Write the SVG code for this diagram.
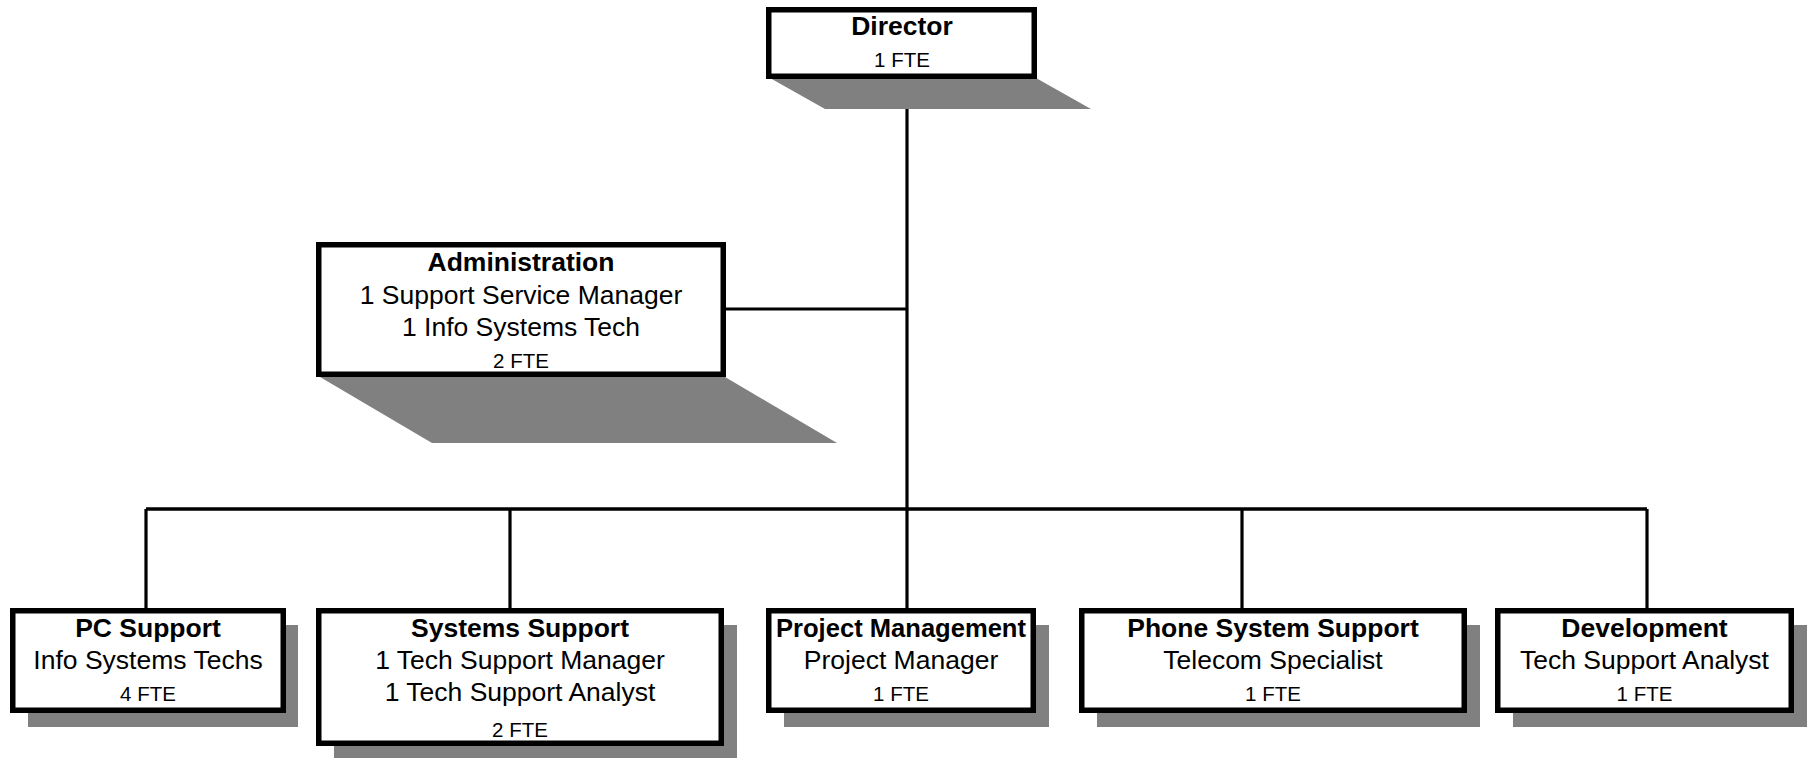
<svg xmlns="http://www.w3.org/2000/svg" width="1807" height="758" viewBox="0 0 1807 758">
<style>
.box{fill:#fff;stroke:#000;stroke-width:5.5}
.shadow{fill:#808080;stroke:none}
.line{stroke:#000;stroke-width:3.2;fill:none}
text{font-family:"Liberation Sans",Arial,sans-serif;fill:#000;text-anchor:middle}
.t{font-size:26.5px;font-weight:bold}
.r{font-size:26.5px}
.f{font-size:20.5px}
</style>
<rect width="1807" height="758" fill="#fff"/>
<g id="connectors">
<line class="line" x1="907" y1="79" x2="907" y2="509"/>
<line class="line" x1="726" y1="309" x2="907" y2="309"/>
<line class="line" x1="146" y1="509" x2="1647" y2="509" style="stroke-width:3.6"/>
<line class="line" x1="146" y1="509" x2="146" y2="608"/>
<line class="line" x1="510" y1="509" x2="510" y2="608"/>
<line class="line" x1="907" y1="509" x2="907" y2="608"/>
<line class="line" x1="1242" y1="509" x2="1242" y2="608"/>
<line class="line" x1="1647" y1="509" x2="1647" y2="608"/>
</g>
<g id="director">
<polygon class="shadow" points="770,78 1036,78 1091,109 825,109"/>
<rect class="box" x="768.75" y="9.75" width="265.5" height="66.5"/>
<text class="t" x="902" y="35">Director</text>
<text class="f" x="902" y="67">1 FTE</text>
</g>
<g id="administration">
<polygon class="shadow" points="320,377 725,377 837,443 432,443"/>
<rect class="box" x="318.75" y="244.75" width="404.5" height="129.5"/>
<text class="t" x="521" y="271">Administration</text>
<text class="r" x="521" y="304">1 Support Service Manager</text>
<text class="r" x="521" y="336">1 Info Systems Tech</text>
<text class="f" x="521" y="368">2 FTE</text>
</g>
<g id="pc-support">
<rect class="shadow" x="28" y="625" width="270" height="102"/>
<rect class="box" x="12.75" y="610.75" width="270.5" height="99.5"/>
<text class="t" x="148" y="637">PC Support</text>
<text class="r" x="148" y="669">Info Systems Techs</text>
<text class="f" x="148" y="701">4 FTE</text>
</g>
<g id="systems-support">
<rect class="shadow" x="334" y="625" width="403" height="135"/>
<rect class="box" x="318.75" y="610.75" width="402.5" height="132.5"/>
<text class="t" x="520" y="637">Systems Support</text>
<text class="r" x="520" y="669">1 Tech Support Manager</text>
<text class="r" x="520" y="701">1 Tech Support Analyst</text>
<text class="f" x="520" y="737">2 FTE</text>
</g>
<g id="project-management">
<rect class="shadow" x="784" y="625" width="265" height="102"/>
<rect class="box" x="768.75" y="610.75" width="264.5" height="99.5"/>
<text class="t" x="901" y="637" textLength="250" lengthAdjust="spacingAndGlyphs">Project Management</text>
<text class="r" x="901" y="669">Project Manager</text>
<text class="f" x="901" y="701">1 FTE</text>
</g>
<g id="phone-system-support">
<rect class="shadow" x="1097" y="625" width="383" height="102"/>
<rect class="box" x="1081.75" y="610.75" width="382.5" height="99.5"/>
<text class="t" x="1273" y="637">Phone System Support</text>
<text class="r" x="1273" y="669">Telecom Specialist</text>
<text class="f" x="1273" y="701">1 FTE</text>
</g>
<g id="development">
<rect class="shadow" x="1513" y="625" width="294" height="102"/>
<rect class="box" x="1497.75" y="610.75" width="293.5" height="99.5"/>
<text class="t" x="1644.5" y="637">Development</text>
<text class="r" x="1644.5" y="669">Tech Support Analyst</text>
<text class="f" x="1644.5" y="701">1 FTE</text>
</g>
</svg>
